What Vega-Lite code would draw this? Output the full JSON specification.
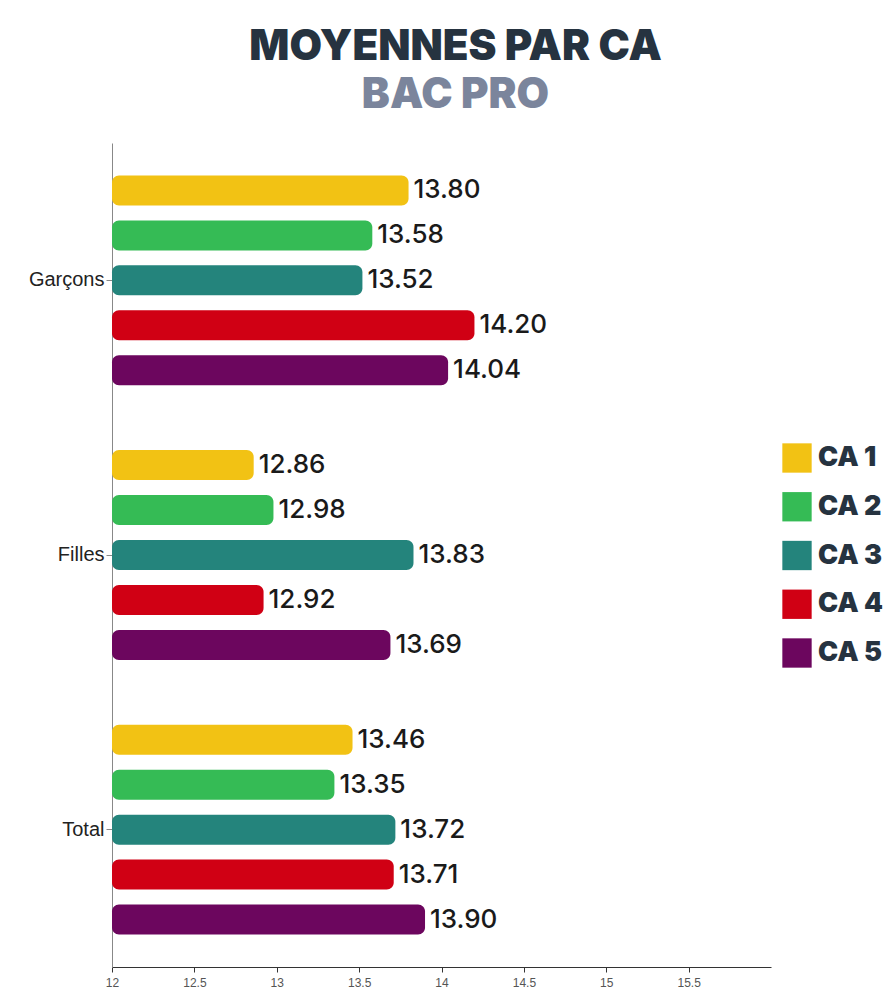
{
  "$schema": "https://vega.github.io/schema/vega-lite/v6.json",
  "autosize": {"type": "none"},
  "width": 659,
  "height": 824,
  "padding": {"left": 112, "top": 143, "right": 125, "bottom": 34},
  "background": "white",
  "title": {
    "text": "MOYENNES PAR CA",
    "subtitle": "BAC PRO",
    "anchor": "middle",
    "frame": "group",
    "dx": 14,
    "font": "Inter",
    "fontWeight": 900,
    "fontSize": 42,
    "color": "#263340",
    "subtitleFont": "Inter",
    "subtitleFontWeight": 900,
    "subtitleFontSize": 42,
    "subtitleColor": "#7b859c",
    "subtitlePadding": 6,
    "offset": 26
  },
  "data": {
    "values": [
      {"groupe": "Garçons", "ca": "CA 1", "moyenne": 13.80},
      {"groupe": "Garçons", "ca": "CA 2", "moyenne": 13.58},
      {"groupe": "Garçons", "ca": "CA 3", "moyenne": 13.52},
      {"groupe": "Garçons", "ca": "CA 4", "moyenne": 14.20},
      {"groupe": "Garçons", "ca": "CA 5", "moyenne": 14.04},
      {"groupe": "Filles", "ca": "CA 1", "moyenne": 12.86},
      {"groupe": "Filles", "ca": "CA 2", "moyenne": 12.98},
      {"groupe": "Filles", "ca": "CA 3", "moyenne": 13.83},
      {"groupe": "Filles", "ca": "CA 4", "moyenne": 12.92},
      {"groupe": "Filles", "ca": "CA 5", "moyenne": 13.69},
      {"groupe": "Total", "ca": "CA 1", "moyenne": 13.46},
      {"groupe": "Total", "ca": "CA 2", "moyenne": 13.35},
      {"groupe": "Total", "ca": "CA 3", "moyenne": 13.72},
      {"groupe": "Total", "ca": "CA 4", "moyenne": 13.71},
      {"groupe": "Total", "ca": "CA 5", "moyenne": 13.90}
    ]
  },
  "encoding": {
    "y": {
      "field": "groupe",
      "type": "nominal",
      "sort": ["Garçons", "Filles", "Total"],
      "scale": {"paddingInner": 0, "paddingOuter": 0},
      "axis": {
        "title": null,
        "labelFont": "Liberation Sans",
        "labelFontSize": 20,
        "labelColor": "#222222",
        "labelPadding": 2,
        "domainColor": "#888888",
        "domainWidth": 1,
        "tickColor": "#888888",
        "tickSize": 6,
        "grid": false
      }
    },
    "yOffset": {
      "field": "ca",
      "type": "nominal",
      "scale": {"paddingInner": 0.333, "paddingOuter": 0.722}
    },
    "x": {
      "field": "moyenne",
      "type": "quantitative",
      "scale": {"domain": [12, 16], "zero": false, "nice": false},
      "axis": {
        "title": null,
        "values": [12, 12.5, 13, 13.5, 14, 14.5, 15, 15.5],
        "format": "~g",
        "labelFlush": false,
        "labelFont": "Liberation Sans",
        "labelFontSize": 12,
        "labelColor": "#555555",
        "labelPadding": 5,
        "domainColor": "#333333",
        "tickColor": "#333333",
        "tickSize": 5,
        "grid": false
      }
    }
  },
  "layer": [
    {
      "mark": {"type": "bar", "cornerRadiusEnd": 7},
      "encoding": {
        "x2": {"datum": 12},
        "color": {
          "field": "ca",
          "type": "nominal",
          "scale": {
            "domain": ["CA 1", "CA 2", "CA 3", "CA 4", "CA 5"],
            "range": ["#F2C214", "#35BB55", "#24847C", "#D00014", "#6C065E"]
          },
          "legend": {
            "title": null,
            "orient": "none",
            "legendX": 670,
            "legendY": 300,
            "symbolType": "square",
            "symbolSize": 860,
            "symbolStrokeWidth": 0,
            "symbolOpacity": 1,
            "labelFont": "Inter",
            "labelFontWeight": 900,
            "labelFontSize": 27,
            "labelColor": "#263340",
            "labelOffset": 6,
            "rowPadding": 18.75
          }
        }
      }
    },
    {
      "mark": {
        "type": "text",
        "align": "left",
        "baseline": "middle",
        "dx": 5,
        "font": "Inter",
        "fontWeight": 500,
        "fontSize": 26,
        "color": "#1a1a1a"
      },
      "encoding": {
        "text": {"field": "moyenne", "type": "quantitative", "format": ".2f"}
      }
    }
  ],
  "config": {
    "view": {"stroke": null}
  }
}
